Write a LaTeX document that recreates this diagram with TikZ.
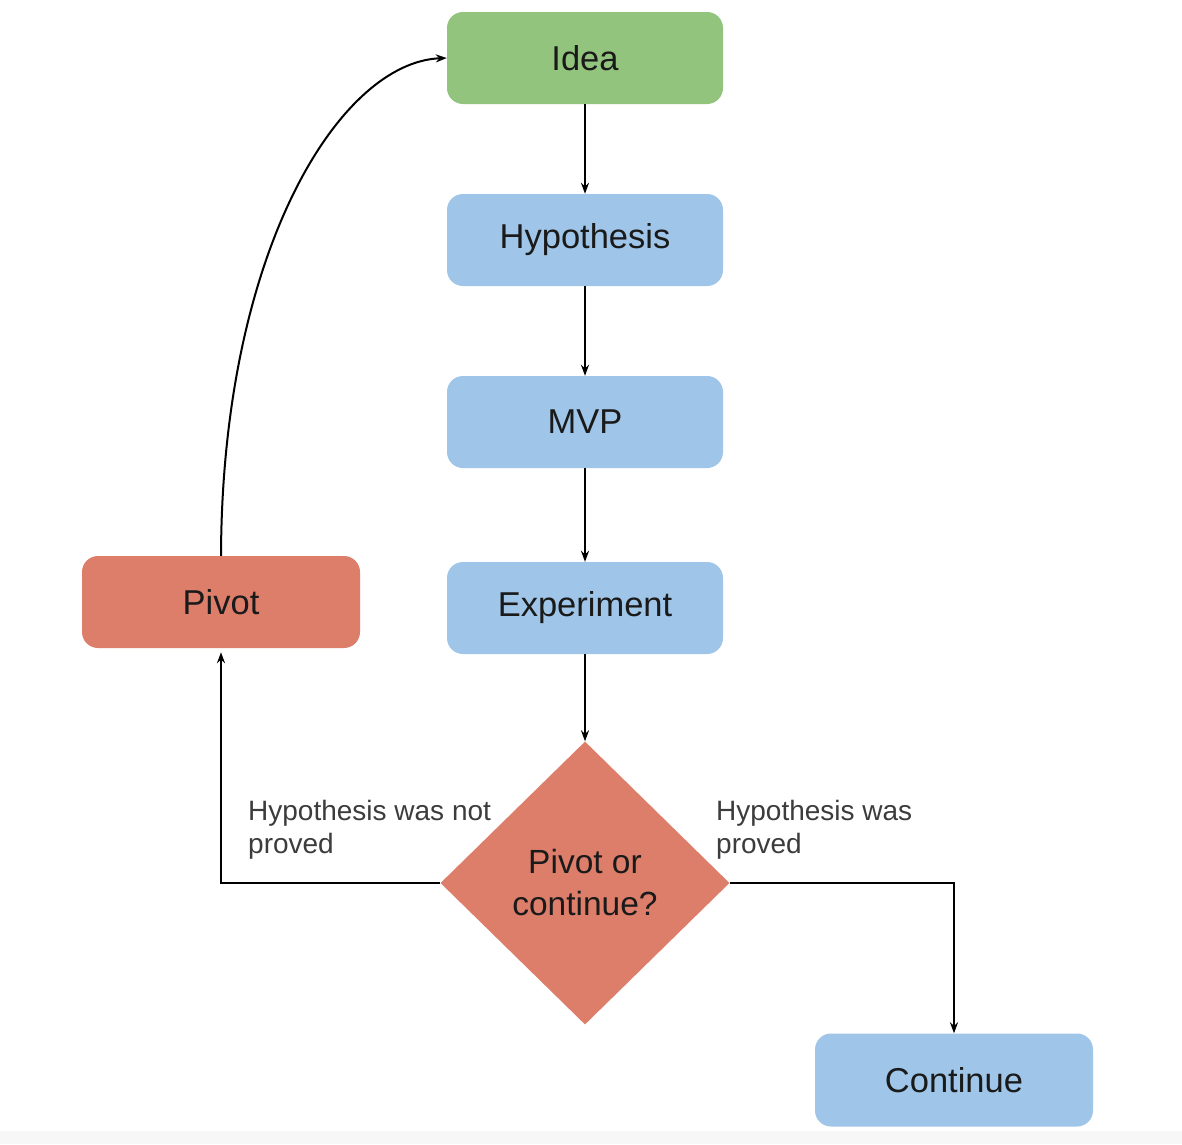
\documentclass[tikz,border=0pt]{standalone}
\usepackage{fontspec}
\setmainfont{Liberation Sans}
\usetikzlibrary{shapes.geometric,arrows.meta}
\definecolor{ideagreen}{HTML}{93C47D}
\definecolor{stepblue}{HTML}{9FC5E8}
\definecolor{pivotred}{HTML}{DD7E6B}
\definecolor{txt}{HTML}{1A1A1A}
\begin{document}
\begin{tikzpicture}[x=1pt,y=-1pt,
  box/.style={rounded corners=16pt,minimum width=276pt,minimum height=92pt,inner sep=0pt,
    font=\fontsize{34.5}{40}\selectfont,text=txt},
  dec/.style={diamond,fill=pivotred,minimum width=289pt,minimum height=283pt,inner sep=0pt,
    align=center,font=\fontsize{33.5}{42}\selectfont,text=txt},
  lbl/.style={anchor=west,align=left,inner sep=0pt,font=\fontsize{28}{33}\selectfont,text=txt!85},
  conn/.style={line width=2pt,-{Stealth[length=11pt,width=8pt]}},
]
\useasboundingbox (0,0) rectangle (1182,1144);
\fill[white] (0,0) rectangle (1182,1144);
\fill[black!3] (0,1131) rectangle (1182,1144);

\node[box,fill=ideagreen] (idea) at (585,58) {Idea};
\node[box,fill=stepblue] (hyp) at (585,240) {Hypothesis};
\node[box,fill=stepblue] (mvp) at (585,422) {MVP};
\node[box,fill=stepblue] (exp) at (585,608) {Experiment};
\node[box,fill=pivotred,minimum width=278pt] (pivot) at (221,602) {Pivot};
\node[dec] (dec) at (585,883) {Pivot or\\continue?};
\node[box,fill=stepblue,minimum width=278pt,minimum height=93pt] (cont) at (954,1080) {Continue};

\node[lbl] (lnot) at (248,830) {Hypothesis was not\\proved};
\node[lbl] (lyes) at (716,830) {Hypothesis was\\proved};

\draw[conn] (idea) -- (hyp);
\draw[conn] (hyp) -- (mvp);
\draw[conn] (mvp) -- (exp);
\draw[conn] (exp) -- (dec.north);
\draw[conn] (dec.west) -| ([yshift=-4pt]pivot.south);
\draw[conn] (dec.east) -| (cont.north);
\draw[conn] (pivot.north) .. controls (222,250) and (340,62) .. (idea.west);
\end{tikzpicture}
\end{document}
